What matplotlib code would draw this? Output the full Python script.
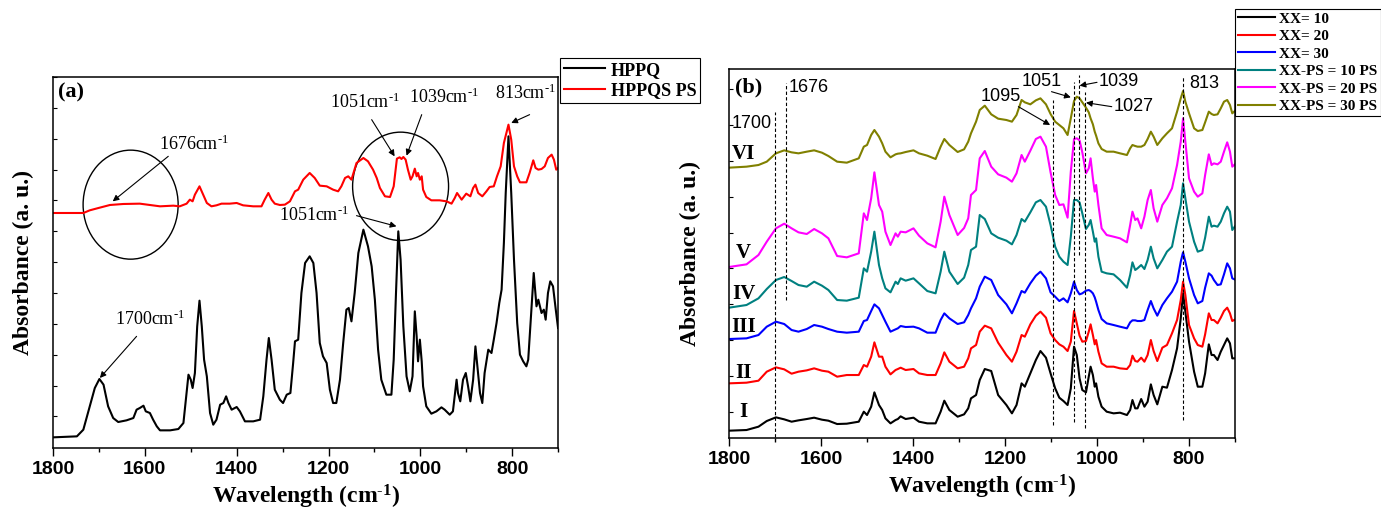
import matplotlib
matplotlib.use("Agg")
import matplotlib.pyplot as plt
from matplotlib.patches import Ellipse
from matplotlib.ticker import MultipleLocator, FixedLocator
import numpy as np

plt.rcParams['font.family'] = ['Liberation Serif', 'DejaVu Serif']
plt.rcParams['mathtext.fontset'] = 'custom'
plt.rcParams['mathtext.rm'] = 'Liberation Serif'
plt.rcParams['mathtext.it'] = 'Liberation Serif:italic'
plt.rcParams['mathtext.bf'] = 'Liberation Serif:bold'

# ---------------- panel (a) data ----------------
wn_hppq = [1800, 1748, 1734, 1720, 1709, 1699, 1690, 1680, 1669, 1658,
           1640, 1625, 1618, 1611, 1603, 1598, 1589, 1582, 1574, 1567,
           1545, 1527, 1516, 1505, 1500, 1496, 1491, 1486, 1481, 1476,
           1471, 1465, 1458, 1451, 1444, 1436, 1429, 1423, 1418, 1411,
           1400, 1393, 1382, 1364, 1349, 1342, 1335, 1330, 1324, 1317,
           1306, 1299, 1291, 1283, 1277, 1273, 1266, 1259, 1251, 1241,
           1233, 1226, 1219, 1212, 1204, 1197, 1190, 1183, 1175, 1168,
           1161, 1156, 1150, 1143, 1135, 1124, 1114, 1106, 1099, 1092,
           1085, 1074, 1063, 1058, 1053, 1048, 1043, 1037, 1030, 1023,
           1017, 1012, 1008, 1005, 1001, 997, 994, 987, 976, 965,
           954, 947, 936, 929, 921, 918, 913, 907, 901, 896,
           891, 885, 880, 875, 870, 865, 860, 852, 845, 840,
           834, 828, 823, 818, 814, 808, 802, 796, 789, 783,
           776, 769, 765, 758, 753, 747, 743, 736, 731, 727,
           722, 717, 711, 705, 700]
abs_hppq = [32, 35, 55, 125, 180, 207, 190, 125, 90, 78,
            83, 90, 115, 120, 127, 110, 105, 85, 65, 53,
            53, 57, 75, 220, 205, 180, 225, 365, 442, 365,
            265, 215, 105, 70, 85, 130, 135, 155, 135, 115,
            123, 110, 80, 80, 85, 155, 265, 330, 265, 175,
            145, 135, 160, 165, 255, 320, 325, 465, 555, 575,
            555, 465, 315, 275, 255, 175, 135, 135, 205, 315,
            415, 420, 380, 465, 585, 655, 605, 545, 445, 295,
            205, 160, 160, 265, 465, 650, 565, 365, 215, 170,
            215, 410, 335, 260, 325, 260, 185, 125, 103, 110,
            122, 115, 100, 110, 205, 165, 140, 205, 225, 185,
            140, 205, 305, 235, 165, 135, 225, 295, 285, 325,
            375, 435, 475, 615, 765, 935, 765, 565, 375, 280,
            260, 245, 265, 415, 525, 425, 445, 405, 415, 385,
            465, 500, 485, 415, 360]

wn_hppqs = [1800, 1734, 1720, 1701, 1676, 1647, 1611, 1589, 1567, 1538,
            1524, 1509, 1502, 1496, 1491, 1481, 1473, 1465, 1455, 1444,
            1433, 1415, 1400, 1386, 1364, 1346, 1339, 1331, 1324, 1317,
            1306, 1295, 1284, 1273, 1266, 1255, 1241, 1230, 1219, 1204,
            1190, 1179, 1172, 1164, 1157, 1150, 1139, 1124, 1114, 1103,
            1095, 1088, 1077, 1066, 1058, 1051, 1045, 1041, 1037, 1032,
            1027, 1021, 1017, 1012, 1008, 1005, 1001, 997, 994, 987,
            976, 958, 943, 932, 925, 920, 915, 910, 900, 891,
            885, 880, 874, 865, 856, 849, 840, 833, 825, 818,
            808, 802, 796, 789, 783, 769, 762, 754, 749, 743,
            736, 729, 722, 714, 709, 704, 700]
abs_hppqs = [705, 705, 713, 720, 729, 732, 733, 729, 725, 727,
             725, 733, 745, 740, 760, 785, 760, 735, 725, 728,
             733, 733, 735, 728, 725, 725, 745, 765, 745, 733,
             729, 730, 740, 770, 775, 805, 825, 810, 787, 785,
             775, 770, 785, 810, 815, 805, 855, 870, 860, 835,
             810, 780, 755, 753, 785, 868, 872, 867, 873, 865,
             835, 805, 815, 838, 815, 825, 805, 815, 775, 753,
             743, 743, 740, 733, 750, 765, 755, 745, 763, 755,
             780, 790, 765, 755, 770, 783, 785, 815, 845, 915,
             970, 925, 845, 815, 797, 797, 825, 863, 840, 835,
             837, 845, 870, 880, 865, 835, 840]

# ---------------- panel (b) data ----------------
wn_b = [1800, 1762, 1736, 1718, 1698, 1680, 1664, 1649, 1631, 1615,
        1598, 1584, 1565, 1544, 1518, 1507, 1500, 1491, 1484, 1474,
        1467, 1460, 1449, 1438, 1433, 1427, 1416, 1399, 1387, 1369,
        1351, 1340, 1332, 1321, 1303, 1289, 1280, 1274, 1263,
        1255, 1244, 1230, 1215, 1197, 1185, 1175, 1164, 1157, 1145,
        1133, 1123, 1111, 1101, 1091, 1082, 1073, 1064, 1057, 1050,
        1044, 1038, 1032, 1024, 1018, 1014, 1009, 1005, 1002, 997,
        990, 979, 964, 950, 935, 928, 923, 917, 912, 904,
        897, 890, 883, 877, 869, 858, 848, 837, 826, 818,
        813, 808, 800, 789, 781, 771, 765, 757, 751, 746,
        738, 731, 724, 717, 711, 706, 698, 692]

abs_xx10 = [22, 24, 34, 51, 62, 56, 49, 53, 57, 61,
            55, 52, 42, 43, 49, 79, 69, 94, 137, 99,
            84, 59, 44, 54, 57, 65, 57, 61, 49, 44,
            44, 79, 112, 84, 64, 71, 89, 119, 129,
            174, 207, 201, 129, 99, 74, 99, 164, 154, 194,
            234, 261, 241, 194, 149, 121, 111, 99, 149, 274,
            249, 179, 144, 137, 184, 214, 189, 154, 164, 124,
            94, 79, 74, 76, 69, 84, 114, 89, 89, 117,
            94, 109, 161, 129, 101, 154, 151, 204, 269, 359,
            434, 379, 289, 199, 154, 154, 194, 281, 249, 249,
            234, 259, 279, 299, 284, 239, 239, 249]
abs_xx20 = [164, 166, 172, 199, 212, 206, 193, 199, 203, 209,
            202, 199, 184, 189, 189, 219, 214, 244, 287, 244,
            244, 214, 191, 204, 207, 211, 204, 207, 194, 189,
            189, 224, 257, 229, 209, 214, 239, 269, 279,
            319, 337, 329, 286, 249, 229, 259, 309, 304, 341,
            367, 379, 361, 314, 294, 281, 274, 261, 289, 381,
            344, 307, 289, 291, 319, 341, 309, 281, 294, 259,
            224, 214, 214, 209, 207, 219, 247, 231, 229, 241,
            229, 249, 294, 261, 231, 271, 279, 314, 354, 414,
            469, 429, 339, 299, 279, 274, 311, 374, 354, 354,
            344, 361, 381, 391, 374, 351, 357, 364]
abs_xx30 = [297, 299, 309, 334, 349, 342, 324, 319, 327, 339,
            334, 327, 319, 316, 319, 351, 354, 381, 401, 389,
            369, 349, 319, 326, 329, 336, 333, 334, 329, 316,
            316, 354, 374, 359, 342, 347, 369, 389, 419,
            454, 484, 474, 429, 401, 374, 404, 441, 436, 464,
            487, 499, 479, 437, 424, 411, 419, 407, 434, 469,
            444, 431, 434, 442, 444, 441, 434, 422, 409, 384,
            357, 344, 339, 334, 329, 347, 353, 353, 351, 351,
            354, 384, 411, 389, 367, 399, 419, 439, 469, 529,
            557, 529, 479, 429, 404, 411, 451, 494, 487, 474,
            459, 461, 491, 524, 509, 479, 474, 494]
abs_ps10 = [391, 399, 419, 447, 474, 483, 471, 459, 454, 469,
            457, 444, 414, 412, 421, 509, 499, 559, 619, 519,
            479, 449, 437, 469, 462, 479, 472, 479, 464, 441,
            434, 499, 559, 499, 462, 481, 519, 564, 574,
            669, 657, 614, 601, 592, 581, 609, 657, 649, 677,
            707, 714, 694, 639, 574, 544, 529, 519, 604, 714,
            714, 707, 674, 627, 639, 654, 619, 589, 599, 544,
            499, 494, 491, 474, 451, 489, 527, 504, 509, 519,
            507, 534, 574, 539, 509, 534, 559, 574, 649, 699,
            764, 719, 649, 589, 559, 564, 601, 664, 634, 637,
            634, 649, 674, 694, 679, 624, 639, 649]
abs_ps20 = [513, 521, 549, 589, 629, 643, 629, 617, 612, 627,
            614, 599, 546, 542, 554, 674, 654, 719, 797, 699,
            679, 619, 579, 614, 604, 619, 617, 629, 607, 584,
            572, 649, 724, 669, 609, 630, 659, 729, 744,
            839, 861, 814, 791, 781, 769, 794, 849, 829, 862,
            897, 904, 874, 797, 729, 699, 701, 661, 799, 897,
            899, 893, 857, 794, 809, 839, 779, 739, 759, 699,
            629, 609, 604, 599, 587, 639, 679, 654, 659, 629,
            664, 714, 744, 689, 649, 699, 719, 749, 819, 889,
            959, 889, 779, 739, 724, 734, 789, 851, 819, 824,
            821, 829, 859, 887, 859, 814, 824, 834]
abs_ps30 = [811, 814, 819, 829, 854, 863, 857, 854, 859, 863,
            856, 846, 829, 826, 839, 874, 879, 909, 924, 904,
            884, 859, 842, 851, 853, 854, 858, 863, 854, 847,
            837, 874, 897, 879, 858, 866, 889, 914, 949,
            984, 997, 971, 958, 954, 949, 969, 1014, 1007, 1001,
            1013, 1019, 1001, 972, 949, 939, 929, 909, 959, 1011,
            1024, 1019, 1007, 991, 977, 959, 941, 919, 907, 884,
            867, 859, 859, 854, 849, 869, 879, 876, 874, 874,
            879, 897, 919, 904, 879, 899, 914, 929, 979, 1019,
            1041, 1009, 974, 929, 921, 924, 947, 979, 972, 969,
            971, 989, 1009, 1014, 999, 974, 984, 994]

labels_b = ['XX= 10', 'XX= 20', 'XX= 30',
            'XX-PS = 10 PS', 'XX-PS = 20 PS', 'XX-PS = 30 PS']
colors_b = ['#000000', '#ff0000', '#0000ff', '#008080', '#ff00ff', '#808000']
roman = ['I', 'II', 'III', 'IV', 'V', 'VI']
roman_y = [77, 194, 334, 431, 554, 851]

marked_wn = [1700, 1676, 1095, 1051, 1039, 1027, 813]
marked_lo = [4, 414, 39, 49, 549, 29, 54]
marked_hi = [979, 1064, 1014, 1069, 1089, 1039, 1084]

xticks = [1800, 1600, 1400, 1200, 1000, 800]

fig = plt.figure(figsize=(13.81, 5.18), dpi=100)
ax1 = fig.add_axes([0.0384, 0.1351, 0.3657, 0.7163])
ax2 = fig.add_axes([0.5279, 0.1544, 0.3664, 0.7124])

xlab = r'Wavelength (cm$^{\text{-}\mathbf{1}}$)'


def style_axis(ax, ytick_start, ytick_step, ytop, ylabelpad):
    ax.set_xlim(1800, 700)
    ax.set_ylim(0, ytop)
    ax.set_xticks(xticks)
    ax.set_xticklabels([str(t) for t in xticks], fontfamily='Liberation Sans',
                       fontweight='bold', fontsize=14)
    ax.xaxis.set_minor_locator(MultipleLocator(100))
    ax.tick_params(axis='x', which='major', direction='out', length=6,
                   width=1.0, pad=3, top=False)
    ax.tick_params(axis='x', which='minor', direction='out', length=3,
                   width=1.0, top=False)
    ax.yaxis.set_major_locator(FixedLocator(np.arange(ytick_start, ytop, ytick_step)))
    ax.tick_params(axis='y', which='both', direction='in', length=3,
                   width=0.8, labelleft=False, right=False)
    for sp in ax.spines.values():
        sp.set_linewidth(1.1)
    ax.set_xlabel(xlab, fontsize=17, fontweight='bold', labelpad=4)
    ax.set_ylabel('Absorbance (a. u.)', fontsize=17, fontweight='bold',
                  labelpad=ylabelpad)


# ---------------- panel (a) ----------------
ax1.plot(wn_hppq, abs_hppq, color='black', lw=1.5, label='HPPQ')
ax1.plot(wn_hppqs, abs_hppqs, color='red', lw=1.5, label='HPPQS PS')
style_axis(ax1, 95, 92.5, 1113, 14)

ax1.add_patch(Ellipse((1631, 730), 207, 327, fill=False, ec='black', lw=1.0))
ax1.add_patch(Ellipse((1043, 785), 209, 325, fill=False, ec='black', lw=1.0))

arrow_kw = dict(arrowstyle='-|>', color='black', lw=0.8, mutation_scale=9,
                shrinkA=0, shrinkB=0)
sup = r'cm$^{\text{-}1}$'
notes_a = [
    ('1676' + sup, (1493, 912), (1549, 875), (1670, 740)),
    ('1051' + sup, (1121, 1037), (1106, 985), (1056, 875)),
    ('1039' + sup, (949, 1053), (997, 1000), (1030, 877)),
    ('813' + sup, (771, 1063), (762, 1000), (802, 975)),
    ('1051' + sup, (1231, 698), (1139, 697), (1052, 665)),
    ('1700' + sup, (1589, 387), (1618, 335), (1698, 210)),
]
for txt, pos, start, end in notes_a:
    ax1.text(pos[0], pos[1], txt, fontsize=13, ha='center', va='center')
    ax1.annotate('', xy=end, xytext=start, arrowprops=arrow_kw)

ax1.text(0.01, 0.957, '(a)', transform=ax1.transAxes, fontsize=16,
         fontweight='bold', ha='left', va='center')

leg1 = ax1.legend(loc='upper left', bbox_to_anchor=(560 / 1381, 1 - 58 / 518),
                  bbox_transform=fig.transFigure,
                  prop={'family': 'Liberation Serif', 'weight': 'bold', 'size': 13},
                  fancybox=False, edgecolor='black', framealpha=1,
                  handlelength=2.3, handletextpad=0.3, labelspacing=0.2,
                  borderpad=0.2, borderaxespad=0)
leg1.get_frame().set_linewidth(0.8)

# ---------------- panel (b) ----------------
series_b = [abs_xx10, abs_xx20, abs_xx30, abs_ps10, abs_ps20, abs_ps30]
for vals, lab, col in zip(series_b, labels_b, colors_b):
    ax2.plot(wn_b, vals, color=col, lw=1.5, label=lab)
style_axis(ax2, 79, 107.5, 1107, 20)

ax2.vlines(marked_wn, marked_lo, marked_hi, colors='black', linestyles=(0, (3, 2)),
           lw=0.8)

notes_b = [
    ('1700', (1751, 944), None, None),
    ('1676', (1627, 1051), None, None),
    ('1095', (1210, 1024), (1171, 994), (1102, 939)),
    ('1051', (1121, 1069), (1099, 1039), (1057, 1022)),
    ('1039', (953, 1069), (1000, 1067), (1038, 1057)),
    ('1027', (920, 994), (968, 994), (1024, 1006)),
    ('813', (766, 1064), None, None),
]
for txt, pos, start, end in notes_b:
    ax2.text(pos[0], pos[1], txt, fontsize=13, fontfamily='Liberation Sans',
             ha='center', va='center')
    if start is not None:
        ax2.annotate('', xy=end, xytext=start, arrowprops=arrow_kw)

for r, y in zip(roman, roman_y):
    ax2.text(1768, y, r, fontsize=15, fontweight='bold', ha='center', va='center')

ax2.text(0.012, 0.951, '(b)', transform=ax2.transAxes, fontsize=16,
         fontweight='bold', ha='left', va='center')

leg2 = ax2.legend(loc='upper left', bbox_to_anchor=(1235 / 1381, 1 - 9 / 518),
                  bbox_transform=fig.transFigure,
                  prop={'family': 'Liberation Serif', 'weight': 'bold', 'size': 11},
                  fancybox=False, edgecolor='black', framealpha=1,
                  handlelength=2.4, handletextpad=0.3, labelspacing=0.25,
                  borderpad=0.2, borderaxespad=0)
leg2.get_frame().set_linewidth(0.8)

fig.savefig('out.png', dpi=100)
